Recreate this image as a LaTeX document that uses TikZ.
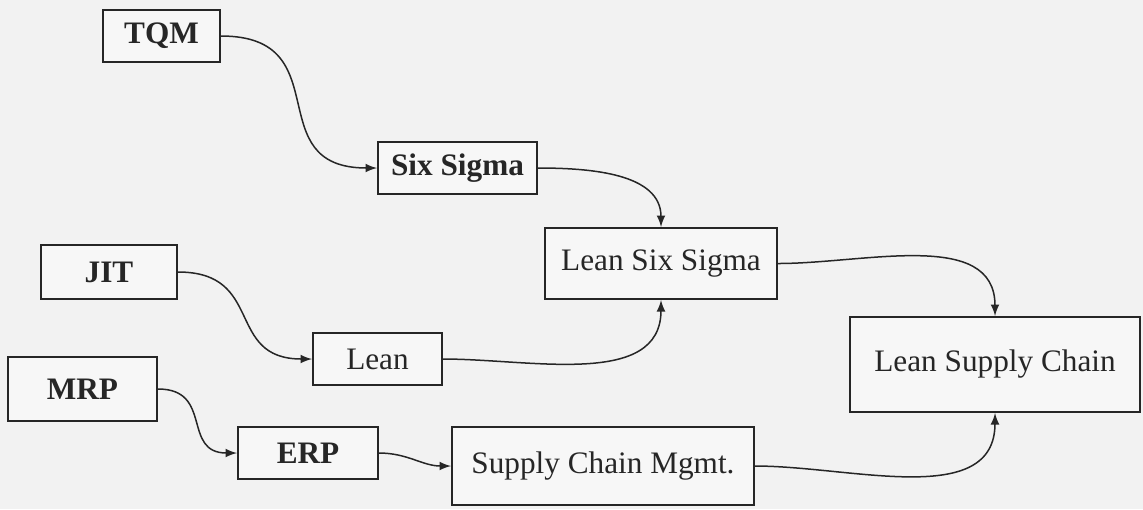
\documentclass[tikz,border=0pt]{standalone}
\usepackage{fontspec}
\setmainfont{Liberation Serif}
\usepackage{tikz}

\begin{document}
\begin{tikzpicture}[x=0.4pt,y=-0.4pt,
  box/.style={draw=black!85,line width=0.8pt,text=black!85,fill=white!97!black,
    inner sep=0pt,font=\fontsize{12.5}{15}\selectfont},
  flow/.style={draw=black!85,line width=0.6pt,-latex}]
\fill[white!95!black] (0,0) rectangle (1143,509);
\useasboundingbox (0,0) rectangle (1143,509);
\node[box,minimum width=46.8pt,minimum height=20.8pt] (tqm) at (161.5,36) {\textbf{TQM}};
\node[box,minimum width=63.6pt,minimum height=20.8pt] (sixsig) at (457.5,168) {\textbf{Six Sigma}};
\node[box,minimum width=54.4pt,minimum height=21.6pt] (jit) at (109,272) {\textbf{JIT}};
\node[box,minimum width=51.6pt,minimum height=20.8pt] (lean) at (377.5,359) {Lean};
\node[box,minimum width=59.6pt,minimum height=25.6pt] (mrp) at (82.5,389) {\textbf{MRP}};
\node[box,minimum width=56pt,minimum height=20.8pt] (erp) at (308,453) {\textbf{ERP}};
\node[box,minimum width=92.8pt,minimum height=28.4pt] (lss) at (661,263.5) {Lean Six Sigma};
\node[box,minimum width=120.8pt,minimum height=31.2pt] (scm) at (603,466) {Supply Chain Mgmt.};
\node[box,minimum width=116pt,minimum height=38pt] (lsc) at (995,364.5) {Lean Supply Chain};
\draw[flow] (tqm.east) to[out=0,in=180,looseness=1.5] (sixsig.west);
\draw[flow] (jit.east) to[out=0,in=180,looseness=1.4] (lean.west);
\draw[flow] (mrp.east) to[out=0,in=180,looseness=1.4] (erp.west);
\draw[flow] (erp.east) to[out=0,in=180] (scm.west);
\draw[flow] (sixsig.east) to[out=0,in=90] (lss.north);
\draw[flow] (lean.east) to[out=0,in=-90] (lss.south);
\draw[flow] (lss.east) to[out=0,in=90] (lsc.north);
\draw[flow] (scm.east) to[out=0,in=-90] (lsc.south);
\end{tikzpicture}
\end{document}
